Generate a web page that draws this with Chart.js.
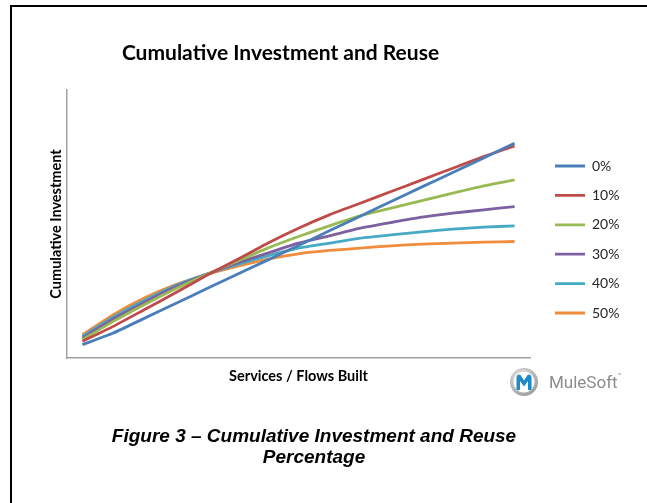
<!DOCTYPE html>
<html>
<head>
<meta charset="utf-8">
<script src="https://cdn.jsdelivr.net/npm/chart.js@4.4.1/dist/chart.umd.min.js"></script>
<style>
  html, body { margin: 0; padding: 0; background: #ffffff; overflow: hidden; }
  body { width: 647px; height: 503px; position: relative; }
  #frame { position: absolute; left: 10px; top: 5px; width: 635px; height: 496px;
           border-left: 2px solid #000; border-top: 2px solid #000; }
  #wrap { position: absolute; left: 0; top: 0; width: 647px; height: 503px; }
  #caption { position: absolute; left: 0; top: 425px; width: 628px; text-align: center;
             font-family: "Liberation Sans", Arial, sans-serif; font-weight: bold; font-style: italic;
             font-size: 19px; line-height: 21px; color: #000; }
  #logo { position: absolute; left: 0; top: 0; }
</style>
</head>
<body>
<div id="frame"></div>
<div id="wrap"><canvas id="c" width="647" height="503"></canvas></div>
<svg id="logo" width="647" height="503" xmlns="http://www.w3.org/2000/svg">
  <defs>
    <radialGradient id="ring" cx="40%" cy="35%" r="70%">
      <stop offset="0%" stop-color="#f2f2f2"/>
      <stop offset="100%" stop-color="#9a9a9a"/>
    </radialGradient>
  </defs>
  <circle cx="524" cy="382" r="14" fill="url(#ring)"/>
  <circle cx="524" cy="382" r="10.5" fill="#ffffff"/>
  <path d="M516.5 390 L516.5 377 Q517.5 373.5 520.5 375 L524 380.5 L527.5 375 Q530.5 373.5 531.5 377 L531.5 390 L528 390 L528 381 L524 386.5 L520 381 L520 390 Z" fill="#1e8bc9"/>
  <text x="549" y="388" font-family="Roboto, sans-serif" font-size="17" fill="#8c8c8c">MuleSoft</text>
  <text x="617" y="378" font-family="Roboto, sans-serif" font-size="7" fill="#8c8c8c">™</text>
</svg>
<div id="caption">Figure 3 – Cumulative Investment and Reuse<br>Percentage</div>
<script>
const categories = ['1','2','3','4','5','6','7','8','9','10','11','12','13','14','15'];
const seriesNames = ['0%', '10%', '20%', '30%', '40%', '50%'];
const reuse0  = [40, 75, 119, 163, 207, 251, 294, 338, 382, 426, 470, 514, 557, 601, 645];
const reuse10 = [50, 95, 145, 195, 247, 295, 345, 390, 430, 465, 500, 535, 570, 605, 637];
const reuse20 = [55, 110, 160, 207, 250, 290, 330, 365, 397, 427, 450, 473, 495, 517, 535];
const reuse30 = [60, 117, 167, 213, 251, 285, 315, 345, 367, 390, 407, 423, 435, 445, 455];
const reuse40 = [65, 123, 173, 217, 251, 280, 307, 330, 345, 360, 370, 379, 387, 393, 397];
const reuse50 = [70, 130, 180, 220, 250, 275, 297, 313, 323, 330, 337, 342, 345, 348, 350];
const colors = ['#4A7EBB', '#BE4B48', '#98B954', '#7D60A0', '#46AAC5', '#F08C3C'];
const seriesData = [reuse0, reuse10, reuse20, reuse30, reuse40, reuse50];

const placeBoxes = {
  id: 'placeBoxes',
  afterLayout(chart) {
    const lg = chart.legend;
    if (lg) {
      const pad = lg.options.labels.padding;
      const w = lg.width;
      lg.left = 555 - pad; lg.top = 159 - pad;
      lg.right = lg.left + w; lg.bottom = lg.top + 320;
    }
    const t = chart.titleBlock;
    if (t) { t.left = 280.5 - 260; t.right = 280.5 + 260; }
  }
};

new Chart(document.getElementById('c'), {
  type: 'line',
  data: {
    labels: categories,
    datasets: seriesData.map((d, i) => ({
      label: seriesNames[i],
      data: d,
      borderColor: colors[i],
      backgroundColor: colors[i],
      borderWidth: 2.8,
      pointRadius: 0,
      tension: 0.15,
      fill: false
    }))
  },
  options: {
    responsive: false,
    animation: false,
    layout: { padding: { left: 43.6, right: 117, top: 0, bottom: 114.3 } },
    plugins: {
      title: {
        display: true,
        text: 'Cumulative Investment and Reuse',
        color: '#000',
        font: { family: 'Lato', weight: 'bold', size: 21 },
        padding: { top: 40.4, bottom: 24.4 }
      },
      legend: {
        display: true,
        position: 'chartArea',
        align: 'start',
        labels: {
          boxWidth: 30,
          boxHeight: 0,
          padding: 15.4,
          color: '#262626',
          font: { family: 'Lato', size: 14 }
        }
      },
      tooltip: { enabled: false }
    },
    scales: {
      x: {
        type: 'category',
        offset: true,
        grid: { display: false, drawTicks: false },
        border: { display: true, color: '#a0a0a0', width: 1.5 },
        ticks: { display: false },
        title: {
          display: true,
          text: 'Services / Flows Built',
          color: '#000',
          font: { family: 'Lato', weight: 'bold', size: 14.5 },
          padding: { top: 9.3, bottom: 4 }
        }
      },
      y: {
        min: 0,
        max: 805,
        grid: { display: false, drawTicks: false },
        border: { display: true, color: '#a0a0a0', width: 1.5 },
        ticks: { display: false },
        title: {
          display: true,
          text: 'Cumulative Investment',
          color: '#000',
          font: { family: 'Lato', weight: 'bold', size: 14.5 },
          padding: { top: 4, bottom: 2 }
        }
      }
    }
  },
  plugins: [placeBoxes]
});
</script>
</body>
</html>
